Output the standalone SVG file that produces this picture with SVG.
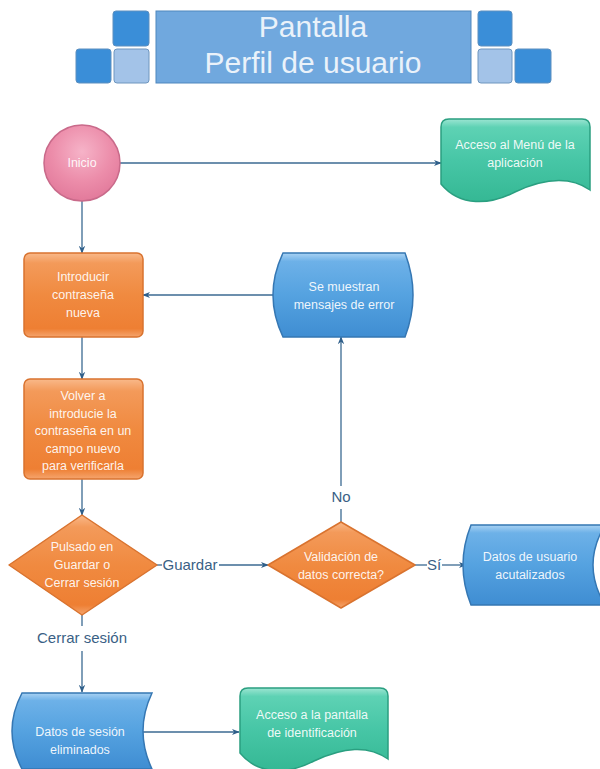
<svg xmlns="http://www.w3.org/2000/svg" width="600" height="769" viewBox="0 0 600 769">
<style>
.nt{font-family:"Liberation Sans",Arial,sans-serif;font-size:12.5px;fill:#ffffff;text-anchor:middle;fill-opacity:0.92}
.lbl{font-family:"Liberation Sans",Arial,sans-serif;font-size:15px;fill:#3A5F85;text-anchor:middle}
.ttl{font-family:"Liberation Sans",Arial,sans-serif;font-size:30px;fill:#EAF2FA;text-anchor:middle}
.con{fill:none;stroke:#3B6A92;stroke-width:1.3}
.orange{fill:url(#gOrange);stroke:#D9732F;stroke-width:1.5}
.blue{fill:url(#gBlue);stroke:#3577B3;stroke-width:1.5}
.teal{fill:url(#gTeal);stroke:#2A9F80;stroke-width:1.5}
.pink{fill:url(#gPink);stroke:#C96A8A;stroke-width:1.5}
.sqD{fill:#3A8ED8;stroke:#5C8FBF;stroke-width:1}
.sqL{fill:#A3C3E8;stroke:#6E96BF;stroke-width:1}
</style>
<defs>
<linearGradient id="gOrange" x1="0" y1="0" x2="0" y2="1">
<stop offset="0" stop-color="#F9B98A"/><stop offset="0.12" stop-color="#F39A5A"/><stop offset="0.5" stop-color="#F08A40"/><stop offset="0.9" stop-color="#EE7F33"/><stop offset="1" stop-color="#F5A56E"/>
</linearGradient>
<linearGradient id="gBlue" x1="0" y1="0" x2="0" y2="1">
<stop offset="0" stop-color="#A9D2F3"/><stop offset="0.1" stop-color="#6DB1E8"/><stop offset="0.5" stop-color="#55A2E0"/><stop offset="1" stop-color="#3F8DD2"/>
</linearGradient>
<linearGradient id="gTeal" x1="0" y1="0" x2="0" y2="1">
<stop offset="0" stop-color="#9CE5D2"/><stop offset="0.1" stop-color="#5ED2B4"/><stop offset="0.5" stop-color="#47C6A6"/><stop offset="1" stop-color="#35B894"/>
</linearGradient>
<radialGradient id="gPink" cx="0.5" cy="0.35" r="0.65">
<stop offset="0" stop-color="#F6B3C8"/><stop offset="0.6" stop-color="#EC8DAA"/><stop offset="1" stop-color="#E27A9B"/>
</radialGradient>
<marker id="arr" viewBox="0 0 10 10" refX="9" refY="5" markerWidth="8" markerHeight="8" orient="auto" markerUnits="userSpaceOnUse">
<path d="M0,1 L10,5 L0,9 L3,5 Z" fill="#2F5F8A"/>
</marker>
</defs>
<rect width="600" height="769" fill="#ffffff"/>

<g id="title">
<rect class="sqD" x="113" y="11" width="36" height="35" rx="3"/>
<rect class="sqD" x="76" y="49" width="35" height="34" rx="3"/>
<rect class="sqL" x="114" y="49" width="35" height="34" rx="3"/>
<rect x="156" y="11" width="315" height="72" fill="#70A8DE" stroke="#4F87BE" stroke-width="1"/>
<rect class="sqD" x="478" y="11" width="34" height="35" rx="3"/>
<rect class="sqL" x="478" y="49" width="34" height="34" rx="3"/>
<rect class="sqD" x="515" y="49" width="36" height="34" rx="3"/>
<text class="ttl" x="313" y="37">Pantalla</text>
<text class="ttl" x="313" y="73">Perfil de usuario</text>
</g>

<g id="connectors">
<path class="con" d="M120,163 H441" marker-end="url(#arr)"/>
<path class="con" d="M82,201 V253" marker-end="url(#arr)"/>
<path class="con" d="M82,337 V379" marker-end="url(#arr)"/>
<path class="con" d="M82,479 V515" marker-end="url(#arr)"/>
<path class="con" d="M273,295 H143" marker-end="url(#arr)"/>
<path class="con" d="M157,565 H162"/>
<path class="con" d="M219,565 H268" marker-end="url(#arr)"/>
<path class="con" d="M341,522 V509"/>
<path class="con" d="M341,486 V337" marker-end="url(#arr)"/>
<path class="con" d="M415,565 H427"/>
<path class="con" d="M442,565 H466" marker-end="url(#arr)"/>
<path class="con" d="M82,615 V626"/>
<path class="con" d="M82,651 V692" marker-end="url(#arr)"/>
<path class="con" d="M143,732 H239" marker-end="url(#arr)"/>
<text class="lbl" x="190" y="570">Guardar</text>
<text class="lbl" x="341" y="502">No</text>
<text class="lbl" x="434" y="570">Sí</text>
<text class="lbl" x="82" y="643">Cerrar sesión</text>
</g>

<g id="inicio">
<circle class="pink" cx="82" cy="163" r="38"/>
<text class="nt" x="82" y="167">Inicio</text>
</g>

<g id="acceso-menu">
<path class="teal" d="M441,127 Q441,119 449,119 H582 Q590,119 590,127 V190 C570,176 545,178 515,192 C490,205 460,207 441,184 Z"/>
<text class="nt" x="515" y="149">Acceso al Menú de la</text>
<text class="nt" x="515" y="167">aplicación</text>
</g>

<g id="introducir">
<rect class="orange" x="24" y="253" width="119" height="84" rx="6"/>
<text class="nt" x="83" y="281">Introducir</text>
<text class="nt" x="83" y="299">contraseña</text>
<text class="nt" x="83" y="317">nueva</text>
</g>

<g id="mensajes-error">
<path class="blue" d="M283,253 H405 Q421,295 405,337 H283 Q263,295 283,253 Z"/>
<text class="nt" x="344" y="291">Se muestran</text>
<text class="nt" x="344" y="309">mensajes de error</text>
</g>

<g id="volver">
<rect class="orange" x="24" y="379" width="119" height="100" rx="6"/>
<text class="nt" x="83" y="400">Volver a</text>
<text class="nt" x="83" y="417.5">introducie la</text>
<text class="nt" x="83" y="435">contraseña en un</text>
<text class="nt" x="83" y="452.5">campo nuevo</text>
<text class="nt" x="83" y="470">para verificarla</text>
</g>

<g id="pulsado">
<path class="orange" d="M82,515 L157,565 L82,615 L9,565 Z" stroke-linejoin="round"/>
<text class="nt" x="82" y="551">Pulsado en</text>
<text class="nt" x="82" y="569">Guardar o</text>
<text class="nt" x="82" y="587">Cerrar sesión</text>
</g>

<g id="validacion">
<path class="orange" d="M341,522 L415,565 L341,608 L268,565 Z" stroke-linejoin="round"/>
<text class="nt" x="341" y="561">Validación de</text>
<text class="nt" x="341" y="579">datos correcta?</text>
</g>

<g id="datos-usuario">
<path class="blue" d="M471,525 H605 Q581,565 605,605 H471 Q455,565 471,525 Z"/>
<text class="nt" x="530" y="561">Datos de usuario</text>
<text class="nt" x="530" y="579">acutalizados</text>
</g>

<g id="datos-sesion">
<path class="blue" d="M22,693 H152 Q134,731 152,769 H22 Q2,731 22,693 Z"/>
<text class="nt" x="80" y="736">Datos de sesión</text>
<text class="nt" x="80" y="754">eliminados</text>
</g>

<g id="acceso-identificacion">
<path class="teal" d="M240,696 Q240,688 248,688 H380 Q388,688 388,696 V759 C368,745 344,747 314,761 C289,774 259,776 240,753 Z"/>
<text class="nt" x="312" y="719">Acceso a la pantalla</text>
<text class="nt" x="312" y="737">de identificación</text>
</g>
</svg>
